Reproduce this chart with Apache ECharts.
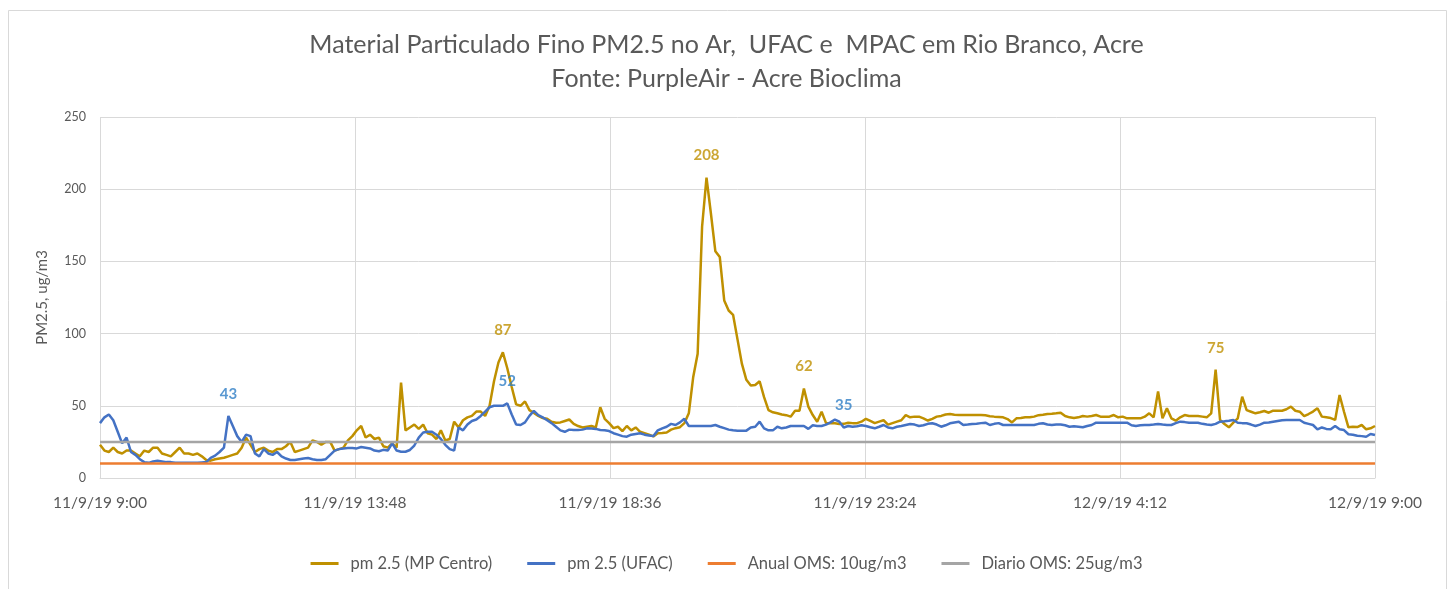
<!DOCTYPE html>
<html><head><meta charset="utf-8">
<script src="https://cdn.jsdelivr.net/npm/echarts@6/dist/echarts.min.js"></script>
<style>html,body{margin:0;padding:0;background:#fff}#c{width:1453px;height:589px}</style>
</head><body><div id="c"></div>
<script>
const titleLines = ["Material Particulado Fino PM2.5 no Ar,  UFAC e  MPAC em Rio Branco, Acre", "Fonte: PurpleAir - Acre Bioclima"];
const yAxisName = "PM2.5, ug/m3";
const tickLabels = ["11/9/19 9:00", "11/9/19 13:48", "11/9/19 18:36", "11/9/19 23:24", "12/9/19 4:12", "12/9/19 9:00"];
const seriesNames = ["pm 2.5 (MP Centro)", "pm 2.5 (UFAC)", "Anual OMS: 10ug/m3", "Diario OMS: 25ug/m3"];
const stepMinutes = 5;
const spanMinutes = 1440;
const tickMinutes = 288;
const pmCentro = [
23,19,18,21,18,17,19,19,17,15,
19,18,21,21,17,16,15,18,21,17,
17,16,17,15,12.5,12,13,13.5,14,15,
16,17,21,28,23,18,20,21,19,18,
20,20,22,25,18,19,20,21,26,25,
23,25,25,19,20,21,26,29,33,36,
28,30,27,28,22,21,24,21,66,33,
35,37,34,37,31,30,27,33,26,27,
39,35,40,42,43,46,46,43,50,67,
80,87,76,63,51,50,53,47,45,43,
41.5,41,39,38.3,38.5,39.5,40.5,37.5,36,35,
35.5,36,35,49,41,38,34.5,35.5,32.5,36,
33,35,32,31,30,28.8,31,31.2,31.5,33.5,
34.5,35.2,38,44.8,70,86,174,208,183,157,
153,123,116,113,96,79,68,64,64.4,67,
56,47,45.5,44.8,44,43.5,42.5,46.6,46.6,62,
49.4,43.6,39,45.9,38,38,37.9,37.4,37.5,38.3,
38,38,39,41,39.5,38,39,40,37,38,
39,40,43.5,42,42.5,42.5,41.3,39.8,41,42.5,
43,44,44.3,43.8,43.6,43.6,43.6,43.6,43.6,43.6,
43.4,42.8,42.5,42.3,42,40.8,38.5,41.3,41.5,42,
42,42.5,43.5,43.8,44.3,44.5,44.8,45.2,42.9,42,
41.5,42,42.9,42.5,43,43.6,42.5,42.5,42.5,43.6,
42,42.5,41.3,41.3,41.3,41.3,42.5,44.8,42,60,
41.3,48.3,41.3,39.7,42,43.6,42.9,42.9,42.9,42.5,
42,44.8,75,40.2,37.4,35.1,38.3,41.3,56.3,47,
45.9,44.8,45.5,46.4,45.2,46.6,46.5,46.6,47.6,49.4,
46.6,45.9,42.9,44.3,46,48.3,42.5,42,41.5,40.2,
57.5,45.9,35.1,35.5,35.3,36.7,33.7,34.4,36
];
const pmUfac = [
38,42,44,40,32,24,28,18,16,13,
11,10.5,11.5,12,11.5,11,11,10.5,10.5,10.5,
10.5,10.5,10.5,10.8,11,14,15.5,18,21,43,
36,29,25,30,29,17,15,20,17,16,
18,15,13.5,12.5,12.5,13,13.5,13.8,13,12.5,
12.5,13,16,19,20,20.5,20.7,20.7,20.5,21.5,
21,20.5,19,18.5,19.5,19,24,19,18.2,18.2,
19.4,22.5,28,31.5,32,32,30,27,23,20,
19,35,33,37,39.5,40.5,43,46,49,50,
50,50,51.7,44,37,36.7,38.5,43,46.5,43.6,
42,40,38,35.5,33,32,33.5,33.2,33.2,33.5,
34.4,34.2,34,33.2,33,32.5,31,30,29,28.6,
30,30.5,31,30,29.5,29,33,34.4,35.5,37.5,
36.7,38.5,41,36,36,36,36,36,36,36.7,
35.5,34.5,33.5,33,32.8,32.8,32.8,35,35.5,39,
34.4,33,33,35.5,34.4,35,36,36,36,36,
34,36.5,36,36,37,38.5,40.5,39,35,36,
35.5,35.8,36.5,36,35.1,34.4,35.5,36.7,35,34.4,
35.5,36,36.7,37.4,37,36,36.5,37.5,37.9,37,
35.5,36.5,37.9,38.5,39,36.7,37,37.4,37.6,38,
38.3,36.7,37.5,38,36.7,36.7,36.7,36.7,36.7,36.7,
36.7,36.7,37.5,37.9,37,36.7,37,37,36.5,35.5,
35.8,35.5,35.1,36,36.7,38.3,38.3,38.3,38.3,38.3,
38.3,38.3,38.3,36.5,36,36.5,36.7,36.7,37,37.4,
37,36.7,36.7,38,39,38.7,38.3,38.3,38.3,37.5,
37,36.7,37.5,39,39.3,39.7,40.2,38.3,38,37.9,
37,36,37,38.3,38.5,39,39.5,40,40.2,40.2,
40.2,40.2,38.3,37.5,36.7,33.7,35,34,33.7,36,
33.7,33.2,30.3,30,29.3,29,28.6,30.5,29.8
];
const anualOMS = 10;
const diarioOMS = 25;
const labelIdxCentro = [91, 137, 159, 252];
const labelIdxUfac = [29, 92, 168];

const toPairs = arr => arr.map((v, i) => [i * stepMinutes, v]);
const constLine = v => [[0, v], [spanMinutes, v]];
const pickPts = (arr, idx) => idx.map(i => [i * stepMinutes, arr[i]]);
const FONT = 'Lato, "Open Sans", sans-serif';

const chart = echarts.init(document.getElementById('c'), null, {renderer: 'canvas'});
const labelSeries = (arr, idx, color) => ({
  type: 'scatter', data: pickPts(arr, idx), symbolSize: 1, silent: true,
  itemStyle: {color: 'rgba(0,0,0,0)'}, z: 10,
  label: {show: true, position: 'top', distance: 14, color: color, fontWeight: 'bold', fontSize: 15, fontFamily: FONT,
    formatter: p => Math.round(p.value[1])}
});
chart.setOption({
  animation: false,
  backgroundColor: '#fff',
  graphic: [{type: 'rect', shape: {x: 8.5, y: 10.5, width: 1438, height: 600}, style: {fill: 'none', stroke: '#D9D9D9', lineWidth: 1}, silent: true}],
  title: {text: titleLines.join('\n'), left: 'center', top: 23,
    textStyle: {color: '#595959', fontSize: 25, fontWeight: 'normal', fontFamily: FONT, lineHeight: 34}},
  grid: {left: 100, right: 78, top: 117, bottom: 111},
  legend: {data: seriesNames, bottom: 12, left: 'center', icon: 'rect', itemWidth: 28, itemHeight: 3, itemGap: 35,
    formatter: n => '{t|' + n + '}',
    textStyle: {color: '#595959', fontSize: 16.5, fontFamily: FONT,
      rich: {t: {color: '#595959', fontSize: 16.5, fontFamily: FONT, padding: [0, 0, 0, 7]}}}},
  xAxis: {type: 'value', min: 0, max: spanMinutes, interval: tickMinutes,
    axisLine: {show: true, lineStyle: {color: '#D9D9D9', width: 1}}, axisTick: {show: false},
    splitLine: {show: true, lineStyle: {color: '#D9D9D9', width: 1}},
    axisLabel: {color: '#595959', fontSize: 15.5, fontFamily: FONT, margin: 17, showMaxLabel: true, showMinLabel: true,
      formatter: v => tickLabels[Math.round(v / tickMinutes)]}},
  yAxis: {type: 'value', min: 0, max: 250, interval: 50, name: yAxisName, nameLocation: 'middle', nameGap: 50,
    nameTextStyle: {color: '#595959', fontSize: 15, fontFamily: FONT},
    axisLine: {show: false}, axisTick: {show: false},
    splitLine: {lineStyle: {color: '#D9D9D9', width: 1}},
    axisLabel: {color: '#595959', fontSize: 12.5, fontFamily: FONT, margin: 14}},
  series: [
    {name: seriesNames[0], type: 'line', data: toPairs(pmCentro), showSymbol: false, symbol: 'none', color: '#BF9000', lineStyle: {width: 2.5}, z: 2},
    {name: seriesNames[1], type: 'line', data: toPairs(pmUfac), showSymbol: false, symbol: 'none', color: '#4472C4', lineStyle: {width: 2.5}, z: 3},
    {name: seriesNames[2], type: 'line', data: constLine(anualOMS), showSymbol: false, symbol: 'none', color: '#ED7D31', lineStyle: {width: 2.5}, z: 4},
    {name: seriesNames[3], type: 'line', data: constLine(diarioOMS), showSymbol: false, symbol: 'none', color: '#A5A5A5', lineStyle: {width: 2.5}, z: 4},
    labelSeries(pmCentro, labelIdxCentro, '#BF9000'),
    labelSeries(pmUfac, labelIdxUfac, '#2F7EC6')
  ]
});
</script></body></html>
